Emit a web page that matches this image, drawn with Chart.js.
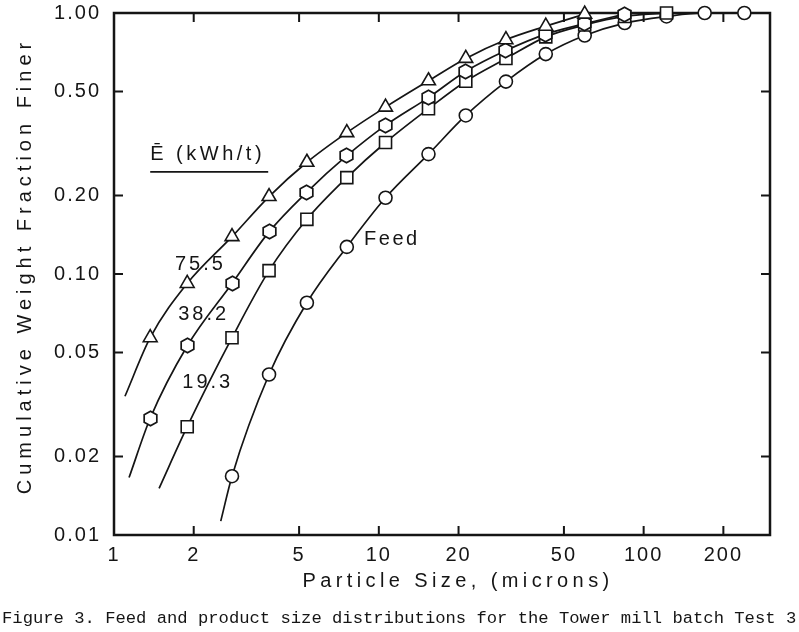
<!DOCTYPE html>
<html lang="en">
<head>
  <meta charset="UTF-8" />
  <title>Feed and product size distributions</title>
  <script src="https://cdn.jsdelivr.net/npm/chart.js"></script>
  <style>
    body {
      margin: 0;
      background: white;
    }
    .wrap {
      width: 799px;
      height: 632px;
    }
  </style>
</head>
<body>
  <div class="wrap"><canvas id="sizeChart" width="799" height="632"></canvas></div>

  <script>
    // size fractions (microns)
    const sizes = [1.37, 1.89, 2.79, 3.85, 5.35, 7.57, 10.6, 15.4, 21.3, 30.2, 42.7, 59.9, 84.8, 122, 170, 240];

    // cumulative weight fraction finer, each series starts at sizes[firstSize[i]]
    const e75 = [0.057, 0.092, 0.139, 0.198, 0.268, 0.348, 0.436, 0.55, 0.67, 0.79, 0.89, 0.99];
    const e38 = [0.028, 0.053, 0.092, 0.145, 0.206, 0.284, 0.371, 0.474, 0.598, 0.718, 0.83, 0.91, 0.99];
    const e19 = [0.026, 0.057, 0.103, 0.162, 0.234, 0.319, 0.43, 0.548, 0.669, 0.81, 0.9, 0.97, 1.0];
    const feed = [0.0168, 0.0412, 0.0776, 0.127, 0.196, 0.288, 0.405, 0.546, 0.696, 0.82, 0.915, 0.97, 1.0, 1.0];
    const firstSize = [0, 0, 1, 2];

    // lower end of each fitted curve (size, fraction)
    const curveStarts = [[1.1, 0.034], [1.14, 0.0166], [1.48, 0.0151], [2.53, 0.0113]];

    const seriesNames = ["75.5", "38.2", "19.3", "Feed"];
    const xTicks = [1, 2, 5, 10, 20, 50, 100, 200];
    const yTicks = [0.01, 0.02, 0.05, 0.1, 0.2, 0.5, 1.0];

    const INK = "#151515";

    function hexagonMarker(r) {
      const c = document.createElement("canvas");
      const s = Math.ceil(2 * r + 4);
      c.width = c.height = s;
      const g = c.getContext("2d");
      g.beginPath();
      for (let k = 0; k < 6; k++) {
        const a = Math.PI / 2 + k * Math.PI / 3;
        g.lineTo(s / 2 + r * Math.cos(a), s / 2 + r * Math.sin(a));
      }
      g.closePath();
      g.fillStyle = "#fff";
      g.fill();
      g.lineWidth = 1.7;
      g.strokeStyle = INK;
      g.stroke();
      return c;
    }

    const markers = [
      { style: "triangle", radius: 8 },
      { style: hexagonMarker(7.3), radius: 7 },
      { style: "rect", radius: 8.5 },
      { style: "circle", radius: 6.5 }
    ];

    const allValues = [e75, e38, e19, feed];
    const datasets = [];
    allValues.forEach((vals, i) => {
      const pts = vals.map((v, j) => ({ x: sizes[firstSize[i] + j], y: v }));
      const start = { x: curveStarts[i][0], y: curveStarts[i][1] };
      datasets.push({
        label: seriesNames[i] + " curve",
        data: [start, ...pts],
        showLine: true,
        borderColor: INK,
        borderWidth: 1.7,
        cubicInterpolationMode: "monotone",
        pointRadius: 0,
        order: 2
      });
      datasets.push({
        label: seriesNames[i],
        data: pts,
        showLine: false,
        pointStyle: markers[i].style,
        pointRadius: markers[i].radius,
        pointBackgroundColor: "#fff",
        pointBorderColor: INK,
        pointBorderWidth: 1.6,
        clip: false,
        order: 1
      });
    });

    function drawText(ctx, str, x, y, font, spacing, align) {
      ctx.save();
      ctx.font = font;
      ctx.letterSpacing = spacing + "px";
      ctx.textAlign = align || "center";
      ctx.textBaseline = "middle";
      ctx.fillStyle = INK;
      ctx.fillText(str, x, y);
      ctx.restore();
    }

    // box, inward ticks on all four sides, and the text labels
    const framePlugin = {
      id: "frame",
      beforeDraw(chart) {
        chart.ctx.letterSpacing = "2px";
        chart.ctx.imageSmoothingEnabled = false;
      },
      beforeDatasetsDraw(chart) {
        const { ctx, chartArea: a, scales } = chart;
        ctx.save();
        ctx.strokeStyle = INK;
        ctx.lineWidth = 2.5;
        ctx.strokeRect(a.left, a.top, a.right - a.left, a.bottom - a.top);
        ctx.lineWidth = 2;
        const len = 9;
        ctx.beginPath();
        xTicks.slice(1).forEach(v => {
          const px = scales.x.getPixelForValue(v);
          ctx.moveTo(px, a.bottom); ctx.lineTo(px, a.bottom - len);
          ctx.moveTo(px, a.top); ctx.lineTo(px, a.top + len);
        });
        yTicks.slice(1, -1).forEach(v => {
          const py = scales.y.getPixelForValue(v);
          ctx.moveTo(a.left, py); ctx.lineTo(a.left + len, py);
          ctx.moveTo(a.right, py); ctx.lineTo(a.right - len, py);
        });
        ctx.stroke();
        ctx.restore();
      },
      afterDraw(chart) {
        const { ctx, scales } = chart;
        const sx = v => scales.x.getPixelForValue(v);
        const sy = v => scales.y.getPixelForValue(v);
        const f = "20px 'Liberation Sans', Arial, sans-serif";

        // axis titles
        ctx.save();
        ctx.translate(25, 266);
        ctx.rotate(-Math.PI / 2);
        drawText(ctx, "Cumulative Weight Fraction Finer", 0, 0, f, 5);
        ctx.restore();
        drawText(ctx, "Particle Size, (microns)", 458, 581, f, 4.4);

        // legend heading with underline
        const hx = sx(1.37), hy = sy(0.286);
        drawText(ctx, "\u0112 (kWh/t)", hx, hy, f, 3.5, "left");
        ctx.save();
        ctx.strokeStyle = INK;
        ctx.lineWidth = 1.8;
        ctx.beginPath();
        ctx.moveTo(hx, hy + 17);
        ctx.lineTo(hx + 118, hy + 17);
        ctx.stroke();
        ctx.restore();

        drawText(ctx, "75.5", sx(2.12), sy(0.109), f, 3);
        drawText(ctx, "38.2", sx(2.18), sy(0.070), f, 3);
        drawText(ctx, "19.3", sx(2.26), sy(0.0385), f, 3);
        drawText(ctx, "Feed", sx(8.8), sy(0.135), f, 2.5, "left");

        drawText(ctx, "Figure 3. Feed and product size distributions for the Tower mill batch Test 3",
          2, 618, "17.2px 'Liberation Mono', 'Courier New', monospace", 0, "left");
      }
    };

    const ctx = document.getElementById("sizeChart").getContext("2d");
    new Chart(ctx, {
      type: "scatter",
      data: { datasets: datasets },
      plugins: [framePlugin],
      options: {
        responsive: false,
        animation: false,
        layout: { padding: { top: 13, right: 29, left: 0, bottom: 0 } },
        plugins: {
          legend: { display: false },
          tooltip: { enabled: false }
        },
        scales: {
          x: {
            type: "logarithmic",
            min: 1,
            max: 300,
            grid: { display: false, drawTicks: false },
            border: { display: false },
            afterBuildTicks: s => { s.ticks = xTicks.map(v => ({ value: v })); },
            afterFit: s => {
              s.height = 97;
              s.paddingLeft = 0;
              s.paddingRight = 0;
            },
            ticks: {
              autoSkip: false,
              maxRotation: 0,
              padding: 8,
              color: INK,
              font: { family: "'Liberation Sans', Arial, sans-serif", size: 20 },
              callback: v => String(v)
            }
          },
          y: {
            type: "logarithmic",
            min: 0.01,
            max: 1.0,
            grid: { display: false, drawTicks: false },
            border: { display: false },
            afterBuildTicks: s => { s.ticks = yTicks.map(v => ({ value: v })); },
            afterFit: s => {
              s.width = 114;
              s.paddingTop = 0;
              s.paddingBottom = 0;
            },
            ticks: {
              autoSkip: false,
              padding: 13,
              color: INK,
              font: { family: "'Liberation Sans', Arial, sans-serif", size: 20 },
              callback: v => Number(v).toFixed(2)
            }
          }
        }
      }
    });
  </script>
</body>
</html>
